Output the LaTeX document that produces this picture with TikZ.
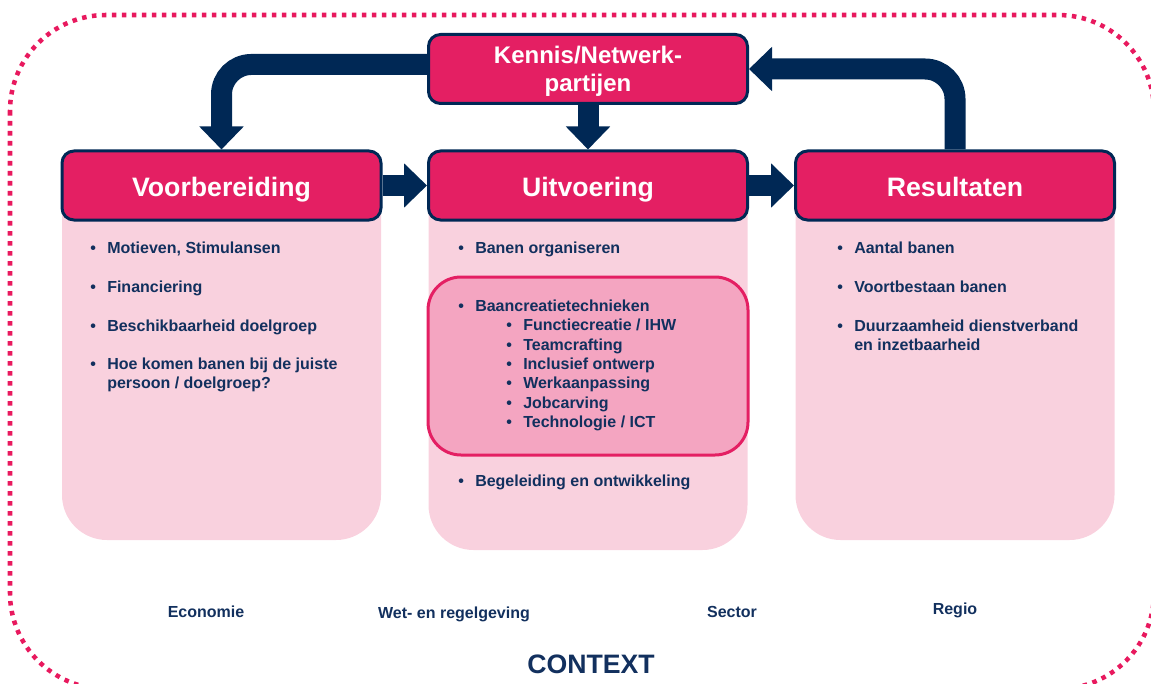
\documentclass[tikz,border=0pt]{standalone}
\usepackage{fontspec}
\setmainfont{Liberation Sans}
\usetikzlibrary{arrows.meta}
\definecolor{crim}{HTML}{E41F63}
\definecolor{navy}{HTML}{002855}
\definecolor{navytxt}{HTML}{12305E}
\definecolor{lpink}{HTML}{F9D1DE}
\definecolor{mpink}{HTML}{F4A5C1}
\definecolor{dotpink}{HTML}{E8195E}
\newcommand\bitem[1]{\llap{\textbullet\hspace{8.5pt}}#1}
\begin{document}
\begin{tikzpicture}[x=0.75pt,y=-0.75pt,
  header/.style={draw=navy, fill=crim, line width=2.25pt, rounded corners=9pt,
    minimum width=239.25pt, minimum height=51.75pt, inner sep=0pt,
    text height=17.2pt, text depth=0pt,
    text=white, font=\bfseries\fontsize{20}{24}\selectfont},
  body/.style={fill=lpink, rounded corners=33.75pt, minimum width=239.25pt, inner sep=0pt},
  bigarrow/.style={draw=navy, line width=15.75pt, line cap=butt,
    -{Triangle[width=32.25pt,length=17.25pt]}},
  itm/.style={anchor=base west, inner sep=0pt, text=navytxt,
    font=\bfseries\fontsize{12}{14.4}\selectfont},
  ctx/.style={inner sep=0pt, text=navytxt, font=\bfseries\fontsize{12}{14}\selectfont}
]
\useasboundingbox (0,0) rectangle (1151,684);
\begin{scope}
\clip (0,0) rectangle (1151,684);
\draw[dotpink, line width=3.4pt, dash pattern=on 3.4pt off 4.1pt, rounded corners=72pt]
  (10,15) rectangle (1154,689);
\end{scope}

% bodies
\node[body, minimum height=281.25pt] (voorB) at (221.5,352.5) {};
\node[body, minimum height=288.75pt] (uitvB) at (588,357.5) {};
\node[body, minimum height=281.25pt] (resB) at (955,352.5) {};
\node[draw=crim, fill=mpink, line width=2.25pt, rounded corners=24.75pt,
  minimum width=240pt, minimum height=133.5pt, inner sep=0pt] (tech) at (588,366) {};

% headers
\node[header] (voor) at (221.5,185.5) {Voorbereiding};
\node[header] (uitv) at (588,185.5) {Uitvoering};
\node[header] (res) at (955,185.5) {Resultaten};
\node[header, align=center, text height=34.5pt, text depth=0pt,
  font=\bfseries\fontsize{18}{21.5}\selectfont] (kennis) at (588,69) {Kennis/Netwerk-\\partijen};

% arrows
\draw[bigarrow] (voor.east) -- (uitv.west);
\draw[bigarrow] (uitv.east) -- (res.west);
\draw[bigarrow] (kennis.south) -- (uitv.north);
\draw[bigarrow, rounded corners=22.5pt] ([yshift=3.4pt]kennis.west) -| (voor.north);
\draw[bigarrow, rounded corners=22.5pt] (res.north) |- (kennis.east);

% left column
\node[itm] (v1) at (107,253) {\bitem{Motieven, Stimulansen}};
\node[itm] (v2) at (107,292) {\bitem{Financiering}};
\node[itm] (v3) at (107,331) {\bitem{Beschikbaarheid doelgroep}};
\node[itm] (v4) at (107,369) {\bitem{Hoe komen banen bij de juiste}};
\node[itm] (v5) at (107,388.5) {persoon / doelgroep?};

% middle column
\node[itm] (u1) at (475,253) {\bitem{Banen organiseren}};
\node[itm] (u2) at (475,311) {\bitem{Baancreatietechnieken}};
\node[itm] (u3) at (523,330.5) {\bitem{Functiecreatie / IHW}};
\node[itm] (u4) at (523,350) {\bitem{Teamcrafting}};
\node[itm] (u5) at (523,369.3) {\bitem{Inclusief ontwerp}};
\node[itm] (u6) at (523,388.6) {\bitem{Werkaanpassing}};
\node[itm] (u7) at (523,408) {\bitem{Jobcarving}};
\node[itm] (u8) at (523,427.3) {\bitem{Technologie / ICT}};
\node[itm] (u9) at (475,486) {\bitem{Begeleiding en ontwikkeling}};

% right column
\node[itm] (r1) at (854,253) {\bitem{Aantal banen}};
\node[itm] (r2) at (854,292) {\bitem{Voortbestaan banen}};
\node[itm] (r3) at (854,331) {\bitem{Duurzaamheid dienstverband}};
\node[itm] (r4) at (854,350) {en inzetbaarheid};

% context
\node[ctx] (c1) at (206,612) {Economie};
\node[ctx] (c2) at (454,614) {Wet- en regelgeving};
\node[ctx] (c3) at (732,612) {Sector};
\node[ctx] (c4) at (955,610) {Regio};
\node[inner sep=0pt, text=navytxt, font=\bfseries\fontsize{20}{24}\selectfont] (ctxt) at (591,664) {CONTEXT};
\end{tikzpicture}
\end{document}
